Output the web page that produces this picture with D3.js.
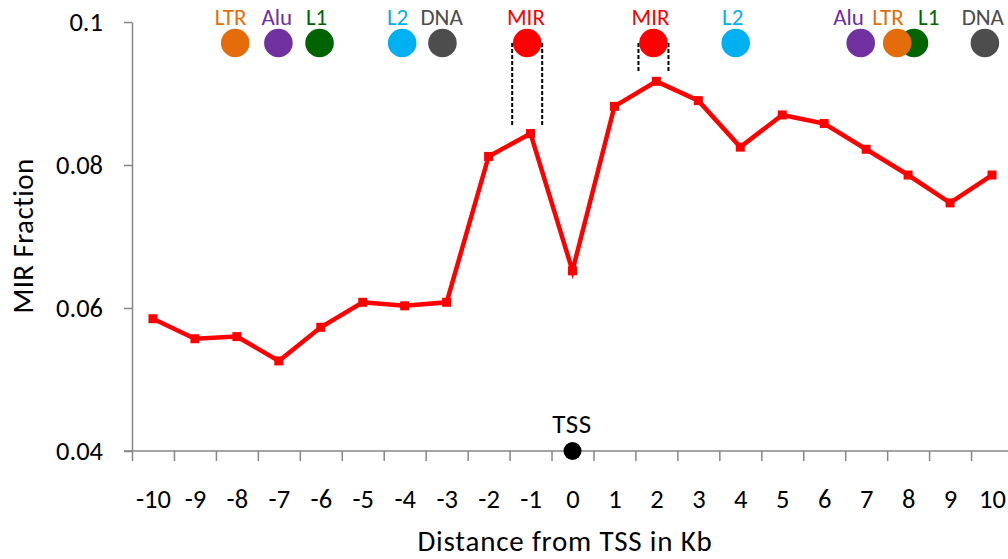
<!DOCTYPE html>
<html>
<head>
<meta charset="utf-8">
<script src="https://cdn.jsdelivr.net/npm/d3@7"></script>
<style>
    body { margin: 0; background: #fff; }
    text { font-family: Carlito, Lato, "Open Sans", sans-serif; }
</style>
</head>
<body>
<script>
// distance from TSS (kb) and MIR fraction
const distances = [-10, -9, -8, -7, -6, -5, -4, -3, -2, -1, 0, 1, 2, 3, 4, 5, 6, 7, 8, 9, 10];
const mirFraction = [0.0585, 0.0557, 0.0560, 0.0526, 0.0573, 0.0608, 0.0603, 0.0608, 0.0812, 0.0844,
    0.0652, 0.0882, 0.0917, 0.0890, 0.0825, 0.0870, 0.0858, 0.0822, 0.0786, 0.0747, 0.0786];

const yTicks = [0.04, 0.06, 0.08, 0.1];
const yTickLabels = ["0.04", "0.06", "0.08", "0.1"];

// repeat-family peaks drawn along the top (positions in kb)
const repeatNames = ["LTR", "Alu", "L1", "L2", "DNA", "MIR", "MIR", "L2", "Alu", "L1", "LTR", "DNA"];
const repeatPos = [-8.04, -7.01, -6.03, -4.06, -3.10, -1.08, 1.93, 3.89, 6.87, 8.14, 7.74, 9.83];
const repeatLabelPos = [-8.15, -7.05, -6.10, -4.17, -3.12, -1.11, 1.86, 3.82, 6.58, 8.49, 7.52, 9.78];
const repeatColors = ["#E46C0A", "#7030A0", "#006400", "#00B0F0", "#4D4D4D", "#FF0000",
    "#FF0000", "#00B0F0", "#7030A0", "#006400", "#E46C0A", "#4D4D4D"];

// MIR brackets: circle position and the value where the dashed lines stop
const bracketPos = [-1.08, 1.93];
const bracketEnd = [0.0853, 0.0929];

const width = 1008;
const height = 559;

const svg = d3.select("body")
    .append("svg")
    .attr("width", width)
    .attr("height", height);

const x = d3.scaleLinear()
    .domain([-10.5, 10.5])
    .range([132, 1013]);

const y = d3.scaleLinear()
    .domain([0.04, 0.1])
    .range([451, 22]);

const axisColor = "#868686";

// y axis
const yAxis = svg.append("g")
    .attr("transform", "translate(" + x(-10.5) + ",0)")
    .call(d3.axisLeft(y)
        .tickValues(yTicks)
        .tickFormat((d, i) => yTickLabels[i])
        .tickSize(8)
        .tickSizeOuter(0)
        .tickPadding(21));
yAxis.select(".domain").attr("stroke", axisColor).attr("stroke-width", 1.5);
yAxis.selectAll(".tick line").attr("stroke", axisColor).attr("stroke-width", 1.5);
yAxis.selectAll(".tick text")
    .attr("fill", "#000")
    .style("font-size", "26.5px");

// x axis: tick marks between categories
const boundaries = distances.map(d => d - 0.5);
const xAxis = svg.append("g")
    .attr("transform", "translate(0," + y(0.04) + ")")
    .call(d3.axisBottom(x)
        .tickValues(boundaries)
        .tickFormat("")
        .tickSize(10)
        .tickSizeOuter(0));
xAxis.select(".domain").remove();
xAxis.selectAll(".tick line").attr("stroke", axisColor).attr("stroke-width", 1.5);

svg.append("line")
    .attr("x1", x(-10.5) - 8)
    .attr("x2", width)
    .attr("y1", y(0.04))
    .attr("y2", y(0.04))
    .attr("stroke", axisColor)
    .attr("stroke-width", 1.5);

// x labels
const xLabels = svg.append("g")
    .attr("transform", "translate(0," + y(0.04) + ")")
    .call(d3.axisBottom(x)
        .tickValues(distances)
        .tickFormat(d => d)
        .tickSize(0)
        .tickPadding(38));
xLabels.select(".domain").remove();
xLabels.selectAll(".tick text")
    .attr("fill", "#000")
    .style("font-size", "26.5px");

// axis titles
svg.append("text")
    .attr("x", 565)
    .attr("y", 551)
    .attr("text-anchor", "middle")
    .style("font-size", "29px")
    .style("letter-spacing", "0.8px")
    .text("Distance from TSS in Kb");

svg.append("text")
    .attr("transform", "translate(33,236) rotate(-90)")
    .attr("text-anchor", "middle")
    .style("font-size", "29px")
    .style("letter-spacing", "0.4px")
    .text("MIR Fraction");

// dashed MIR brackets
const circleY = 43;
bracketPos.forEach(function (p, i) {
    [-15, 15].forEach(function (off) {
        svg.append("line")
            .attr("x1", x(p) + off)
            .attr("x2", x(p) + off)
            .attr("y1", circleY)
            .attr("y2", y(bracketEnd[i]))
            .attr("stroke", "#000")
            .attr("stroke-width", 2)
            .attr("stroke-dasharray", "4,2");
    });
});

// line
const line = d3.line()
    .x((d, i) => x(distances[i]))
    .y(d => y(d));

svg.append("path")
    .datum(mirFraction)
    .attr("fill", "none")
    .attr("stroke", "#FF0000")
    .attr("stroke-width", 4.5)
    .attr("stroke-linejoin", "miter")
    .attr("d", line);

svg.selectAll(".pt")
    .data(mirFraction)
    .enter()
    .append("rect")
    .attr("class", "pt")
    .attr("x", (d, i) => x(distances[i]) - 4.5)
    .attr("y", d => y(d) - 4.5)
    .attr("width", 9)
    .attr("height", 9)
    .attr("fill", "#FF0000");

// repeat circles and labels
svg.selectAll(".rep")
    .data(repeatPos)
    .enter()
    .append("circle")
    .attr("class", "rep")
    .attr("cx", d => x(d))
    .attr("cy", circleY)
    .attr("r", 14.3)
    .attr("fill", (d, i) => repeatColors[i]);

svg.selectAll(".repLabel")
    .data(repeatLabelPos)
    .enter()
    .append("text")
    .attr("class", "repLabel")
    .attr("x", d => x(d))
    .attr("y", 25)
    .attr("text-anchor", "middle")
    .attr("fill", (d, i) => repeatColors[i])
    .style("font-size", "23px")
    .text((d, i) => repeatNames[i]);

// TSS marker
svg.append("circle")
    .attr("cx", x(0))
    .attr("cy", y(0.04))
    .attr("r", 9)
    .attr("fill", "#000");

svg.append("text")
    .attr("x", x(0) - 0.5)
    .attr("y", 433)
    .attr("text-anchor", "middle")
    .style("font-size", "27px")
    .style("letter-spacing", "0.5px")
    .text("TSS");
</script>
</body>
</html>
